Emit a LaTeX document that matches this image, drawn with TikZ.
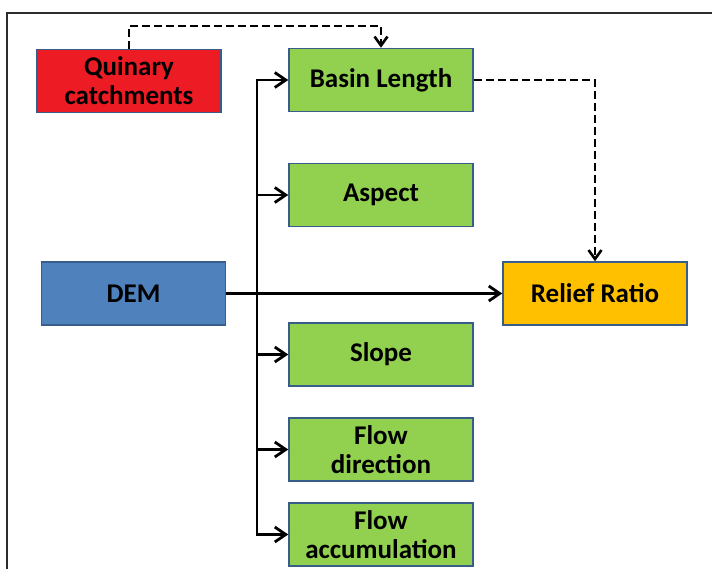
\documentclass[tikz,border=0pt]{standalone}
\usepackage{fontspec}
\setmainfont{Carlito}
\usepackage{tikz}
\usepackage{xcolor}
\usetikzlibrary{positioning, arrows.meta}
\definecolor{catred}{RGB}{237, 28, 36}
\definecolor{demblue}{RGB}{79, 129, 189}
\definecolor{paramgreen}{RGB}{146, 208, 80}
\definecolor{ratioorange}{RGB}{255, 192, 0}
\definecolor{edgeblue}{RGB}{56, 93, 138}
\definecolor{framegray}{RGB}{45, 45, 45}
\tikzset{
    boxnode/.style={rectangle, draw=edgeblue, line width=1.5pt, minimum width=184pt, minimum height=63pt, inner sep=0pt, align=center, font=\bfseries\fontsize{27}{29}\selectfont},
    catnode/.style={boxnode, fill=catred},
    demnode/.style={boxnode, fill=demblue},
    paramnode/.style={boxnode, fill=paramgreen},
    rationode/.style={boxnode, fill=ratioorange},
    flowline/.style={line width=2.8pt, -{Straight Barb[length=11pt, width=15pt]}},
    dashline/.style={line width=2.6pt, dash pattern=on 8pt off 4pt, -{Straight Barb[length=9pt, width=13pt]}}
}

\begin{document}
\begin{tikzpicture}[x=1pt, y=-1pt]
    \useasboundingbox[fill=white] (0,0) rectangle (712,569);
    \draw[framegray, line width=2pt] (7,569) -- (7,13) -- (712,13);

    \node[catnode] (quinary) at (129,81) {Quinary\\catchments};
    \node[paramnode] (basin) at (381,80) {Basin Length};
    \node[paramnode] (aspect) at (381,195) {Aspect};
    \node[demnode] (dem) at (133.5,293.5) {DEM};
    \node[rationode] (relief) at (595,293.5) {Relief Ratio};
    \node[paramnode] (slope) at (381,354.5) {Slope};
    \node[paramnode] (flowdir) at (381,449.5) {Flow\\direction};
    \node[paramnode] (flowacc) at (381,534.5) {Flow\\accumulation};

    \coordinate (split) at (257,293.5);
    \coordinate (qtop) at (129,26);

    \draw[flowline] (dem) -- (relief);
    \foreach \t in {basin, aspect, slope, flowdir, flowacc}
        \draw[flowline] (split) |- (\t);

    \draw[dashline] (quinary.north) -- (qtop) -| (basin.north);
    \draw[dashline] (basin.east) -| (relief.north);
\end{tikzpicture}
\end{document}
